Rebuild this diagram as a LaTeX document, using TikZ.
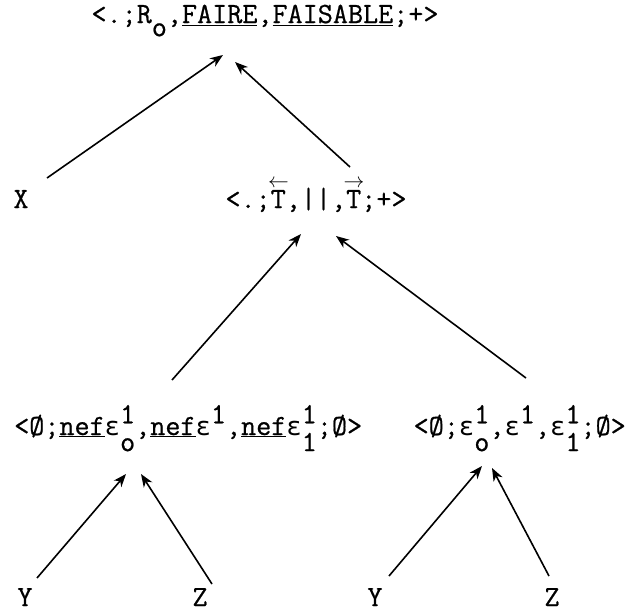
\documentclass[tikz,border=0pt]{standalone}
\usepackage{fontspec}
\setmonofont{Latin Modern Mono}[FakeBold=0.7]
\newfontfamily\grk{DejaVu Sans Mono}[Scale=0.872]
\usetikzlibrary{arrows.meta}
\newcommand{\sbs}[2]{\rlap{\raisebox{0.40em}{#1}}\raisebox{-0.55em}{#2}}
\newcommand{\spo}[1]{\raisebox{0.40em}{#1}}
\newcommand{\sbo}[1]{\raisebox{-0.45em}{#1}}
\newcommand{\eps}{{\grk ε}}
\newcommand{\emp}{\O}
\newcommand{\ul}[1]{\underline{#1}}
\newcommand{\vecT}[1]{\rlap{\raisebox{0.70em}{\makebox[0.525em]{\fontsize{22}{22}\selectfont$#1$}}}T}
\begin{document}
\begin{tikzpicture}[x=1pt,y=-1pt,
  lab/.style={inner sep=0pt,anchor=base,font=\fontsize{29.3}{32}\selectfont\ttfamily},
  arr/.style={line width=1.6pt,-{Stealth[length=13pt,width=10pt,inset=4pt]}}]
\useasboundingbox (0,0) rectangle (635,616);
\node[lab] (top) at (265,23) {<.;R\sbo{o},\ul{FAIRE},\ul{FAISABLE};+>};
\node[lab] (X) at (21,208) {X};
\node[lab] (mid) at (316,208) {<.;\vecT{\leftarrow},\textbar\textbar,\vecT{\rightarrow};+>};
\node[lab,anchor=base west] (bl) at (14,435) {<\emp;\ul{nef}\eps\sbs{1}{o},\ul{nef}\eps\spo{1},\ul{nef}\eps\sbs{1}{1};\emp>};
\node[lab,anchor=base east] (br) at (626,435) {<\emp;\eps\sbs{1}{o},\eps\spo{1},\eps\sbs{1}{1};\emp>};
\node[lab] (Y1) at (25,606) {Y};
\node[lab] (Z1) at (200,606) {Z};
\node[lab] (Y2) at (375,606) {Y};
\node[lab] (Z2) at (552,606) {Z};
% connector end points
\coordinate (xs) at (47,178);   \coordinate (xt) at (223,55);
\coordinate (ms) at (350,167);  \coordinate (mt) at (235,62);
\coordinate (bls) at (172,380); \coordinate (blt) at (301,234);
\coordinate (brs) at (526,378); \coordinate (brt) at (336,236);
\coordinate (y1s) at (37,578);  \coordinate (y1t) at (126,474);
\coordinate (z1s) at (212,584); \coordinate (z1t) at (141,474);
\coordinate (y2s) at (389,576); \coordinate (y2t) at (482,466);
\coordinate (z2s) at (549,576); \coordinate (z2t) at (492,468);
\draw[arr] (xs) -- (xt);
\draw[arr] (ms) -- (mt);
\draw[arr] (bls) -- (blt);
\draw[arr] (brs) -- (brt);
\draw[arr] (y1s) -- (y1t);
\draw[arr] (z1s) -- (z1t);
\draw[arr] (y2s) -- (y2t);
\draw[arr] (z2s) -- (z2t);
\end{tikzpicture}
\end{document}
